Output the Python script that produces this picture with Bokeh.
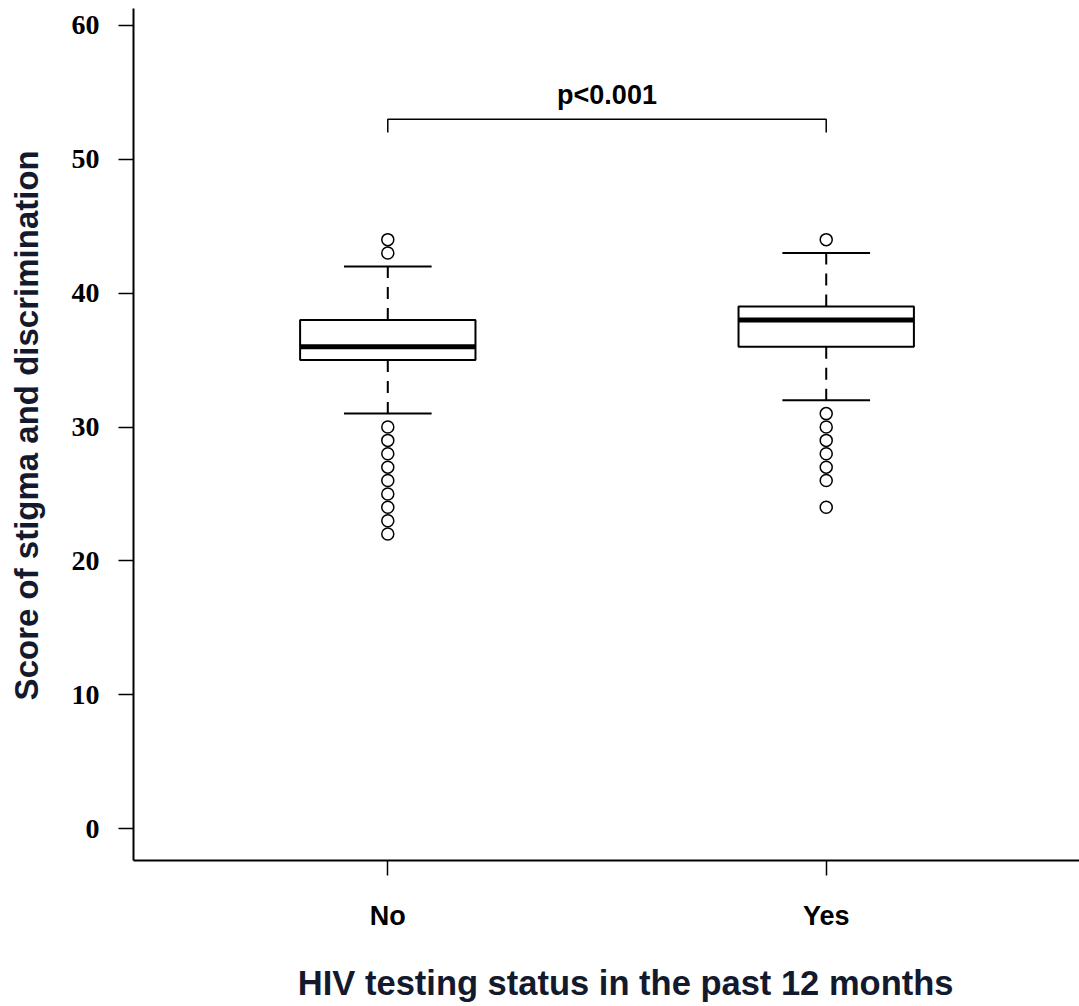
from bokeh.plotting import figure
from bokeh.models import Range1d, FixedTicker, ColumnDataSource, LinearAxis
from bokeh.embed import file_html
from bokeh.resources import INLINE
from bokeh.core.properties import value

# ---- data ----
categories = ["No", "Yes"]
q1 = [35, 36]
median = [36, 38]
q3 = [38, 39]
whisker_low = [31, 32]
whisker_high = [42, 43]
outliers_no = [44, 43, 30, 29, 28, 27, 26, 25, 24, 23, 22]
outliers_yes = [44, 31, 30, 29, 28, 27, 26, 24]
y_ticks = [0, 10, 20, 30, 40, 50, 60]
p_label = "p<0.001"
bracket_y = 53
bracket_drop = 52
p_label_y = 54.8
x_title = "HIV testing status in the past 12 months"
y_title = "Score of stigma and discrimination"

xpos = [i + 1 for i in range(len(categories))]
BOX_HALF = 0.2
CAP_HALF = 0.1

TITLE_COLOR = "#141a2e"
NBSP = "\u00a0"

p = figure(width=1079, height=1006, output_backend="svg", toolbar_location=None,
           x_range=Range1d(0.42, 2.5777), y_range=Range1d(-2.39, 61.27),
           x_axis_location=None, y_axis_location=None,
           min_border_left=133, min_border_right=0, min_border_top=8,
           min_border_bottom=146)
p.grid.visible = False
p.outline_line_color = None
p.background_fill_color = "white"
p.border_fill_color = "white"

src = ColumnDataSource(dict(
    x=xpos, q1=q1, med=median, q3=q3, lo=whisker_low, hi=whisker_high,
    x0=[x - BOX_HALF for x in xpos], x1=[x + BOX_HALF for x in xpos],
    c0=[x - CAP_HALF for x in xpos], c1=[x + CAP_HALF for x in xpos],
))

# whiskers (dashed)
p.segment(x0="x", y0="q3", x1="x", y1="hi", source=src, line_color="black",
          line_width=2, line_dash="12 9")
p.segment(x0="x", y0="q1", x1="x", y1="lo", source=src, line_color="black",
          line_width=2, line_dash="12 9")
# caps
p.segment(x0="c0", y0="hi", x1="c1", y1="hi", source=src, line_color="black", line_width=2)
p.segment(x0="c0", y0="lo", x1="c1", y1="lo", source=src, line_color="black", line_width=2)
# boxes
p.quad(left="x0", right="x1", bottom="q1", top="q3", source=src,
       fill_color="white", line_color="black", line_width=2)
# medians
p.segment(x0="x0", y0="med", x1="x1", y1="med", source=src, line_color="black", line_width=5)

# outliers
ox = [xpos[0]] * len(outliers_no) + [xpos[1]] * len(outliers_yes)
oy = outliers_no + outliers_yes
p.scatter(ox, oy, marker="circle", size=12, fill_color="white", line_color="black",
          line_width=1.5)

# significance bracket
p.line([xpos[0], xpos[0], xpos[1], xpos[1]],
       [bracket_drop, bracket_y, bracket_y, bracket_drop], line_color="black", line_width=1.5)
p.text(x=[(xpos[0] + xpos[1]) / 2], y=[p_label_y], text=[p_label],
       text_align="center", text_baseline="alphabetic",
       text_font=value("Liberation Sans"), text_font_style="bold",
       text_font_size="27px", text_color="black")

# axes
yaxis = LinearAxis(ticker=FixedTicker(ticks=y_ticks))
# two leading no-break spaces nudge the title slightly up, as in the original
yaxis.axis_label = NBSP * 2 + y_title
yaxis.axis_label_text_font = "Liberation Sans"
yaxis.axis_label_text_font_style = "bold"
yaxis.axis_label_text_font_size = "33px"
yaxis.axis_label_text_color = TITLE_COLOR
yaxis.axis_label_standoff = 24
yaxis.major_label_text_font = "Liberation Serif"
yaxis.major_label_text_font_style = "bold"
yaxis.major_label_text_font_size = "28px"
yaxis.major_label_text_color = "black"
yaxis.major_label_standoff = 19
yaxis.major_tick_out = 15
yaxis.major_tick_in = 0
yaxis.minor_tick_line_color = None
yaxis.axis_line_width = 2
yaxis.major_tick_line_width = 1.5
p.add_layout(yaxis, "left")

xaxis = LinearAxis(ticker=FixedTicker(ticks=xpos))
xaxis.major_label_overrides = {x: c for x, c in zip(xpos, categories)}
# leading no-break spaces nudge the title slightly right, as in the original
xaxis.axis_label = NBSP * 4 + x_title
xaxis.axis_label_text_font = "Liberation Sans"
xaxis.axis_label_text_font_style = "bold"
xaxis.axis_label_text_font_size = "34.5px"
xaxis.axis_label_text_color = TITLE_COLOR
xaxis.axis_label_standoff = 30
xaxis.major_label_text_font = "Liberation Sans"
xaxis.major_label_text_font_style = "bold"
xaxis.major_label_text_font_size = "27px"
xaxis.major_label_text_color = "black"
xaxis.major_label_standoff = 25
xaxis.major_tick_out = 15
xaxis.major_tick_in = 0
xaxis.minor_tick_line_color = None
xaxis.axis_line_width = 2
xaxis.major_tick_line_width = 1.5
p.add_layout(xaxis, "below")

open("out.html", "w").write(file_html(p, INLINE))
